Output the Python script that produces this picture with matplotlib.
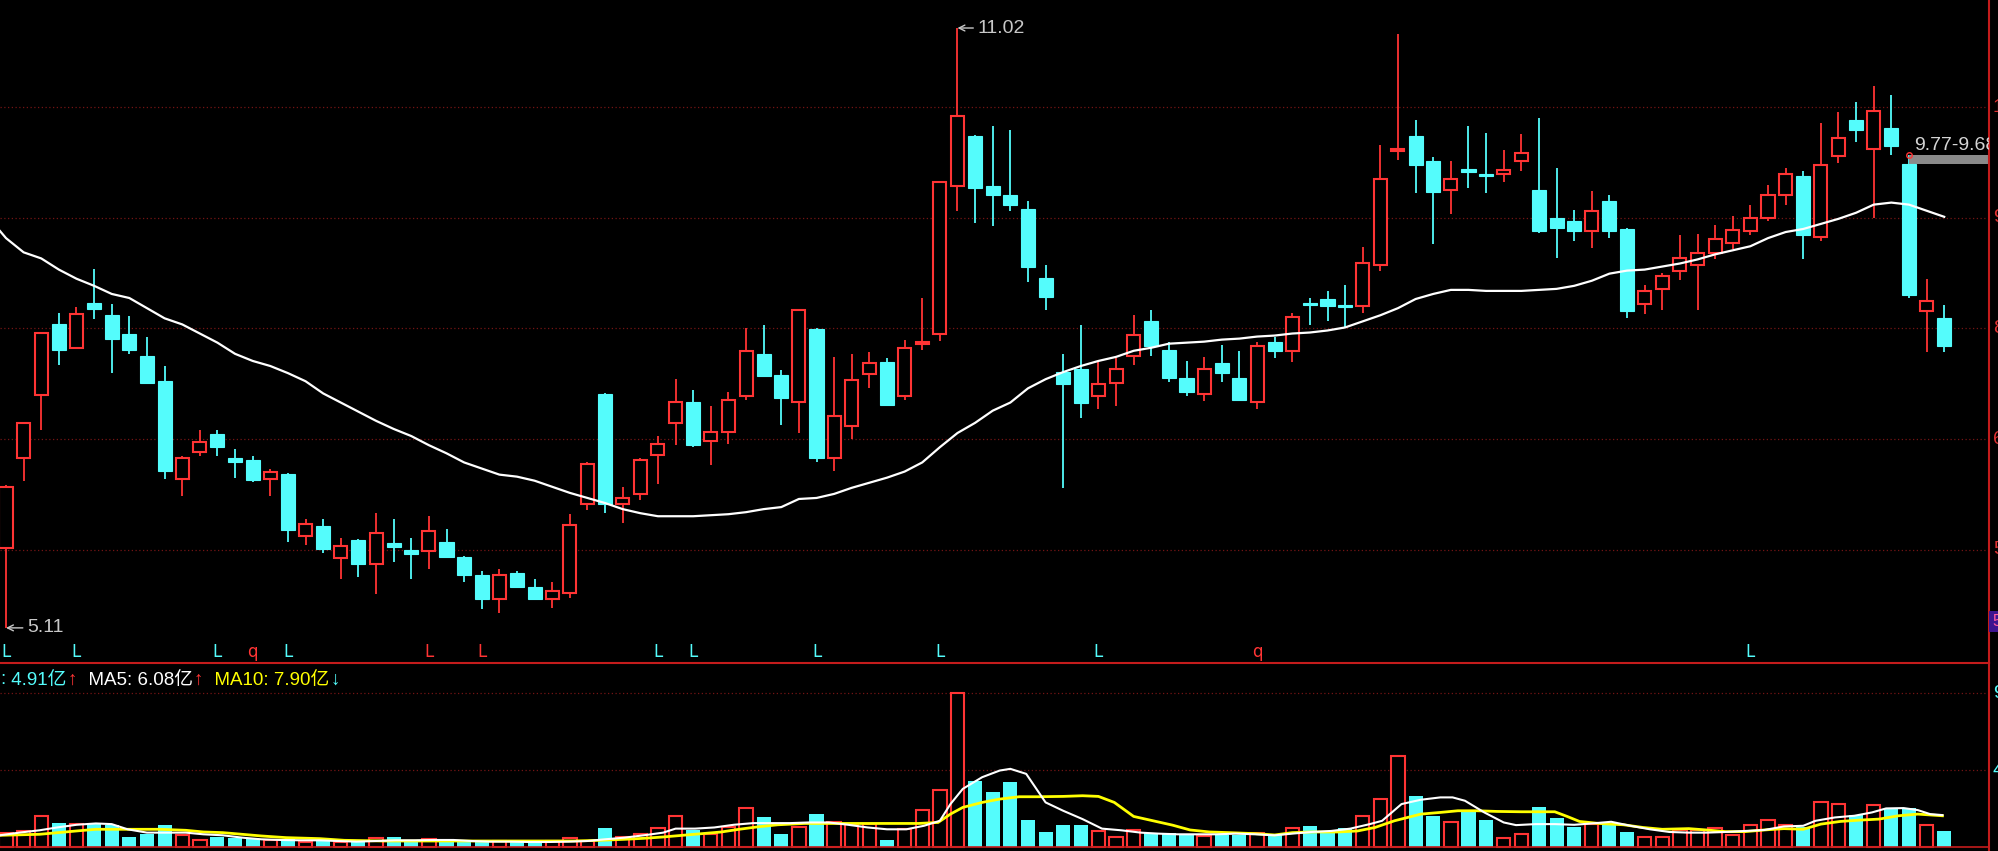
import matplotlib.pyplot as plt
import numpy as np
from matplotlib.transforms import blended_transform_factory, IdentityTransform

plt.rcParams['font.family'] = ['Liberation Sans', 'Noto Sans CJK SC', 'DejaVu Sans']

# ---- Kursdaten, ein Eintrag je Tag ----
opens = [5.90, 6.78, 7.40, 8.10, 7.87, 8.31, 8.19, 8.01, 7.79, 7.54,
         6.58, 6.84, 7.02, 6.78, 6.76, 6.58, 6.63, 6.02, 6.11, 5.80,
         5.98, 5.74, 5.95, 5.88, 5.87, 5.96, 5.81, 5.63, 5.39, 5.65,
         5.51, 5.39, 5.45, 6.33, 7.41, 6.33, 6.43, 6.81, 7.13, 7.34,
         6.95, 7.04, 7.39, 7.81, 7.60, 7.34, 8.05, 6.78, 7.10, 7.61,
         7.73, 7.39, 7.91, 8.01, 9.46, 9.96, 9.46, 9.37, 9.24, 8.56,
         7.63, 7.66, 7.39, 7.52, 7.79, 8.13, 7.85, 7.57, 7.41, 7.72,
         7.57, 7.34, 7.93, 7.84, 8.31, 8.35, 8.29, 8.28, 8.69, 9.81,
         9.96, 9.71, 9.42, 9.63, 9.58, 9.58, 9.71, 9.42, 9.15, 9.12,
         9.02, 9.32, 9.04, 8.30, 8.45, 8.63, 8.69, 8.80, 8.90, 9.02,
         9.15, 9.37, 9.56, 8.96, 9.76, 10.11, 9.83, 10.03, 9.68, 8.23,
         8.16]
highs = [6.52, 7.13, 8.03, 8.21, 8.27, 8.65, 8.30, 8.18, 7.98, 7.69,
         6.80, 7.06, 7.06, 6.87, 6.80, 6.68, 6.64, 6.18, 6.18, 6.00,
         5.99, 6.24, 6.18, 6.00, 6.21, 6.08, 5.82, 5.67, 5.69, 5.67,
         5.59, 5.56, 6.23, 6.74, 7.42, 6.50, 6.78, 7.00, 7.56, 7.45,
         7.30, 7.43, 8.06, 8.09, 7.65, 8.25, 8.06, 7.78, 7.81, 7.83,
         7.77, 7.95, 8.36, 9.51, 11.02, 9.97, 10.05, 10.02, 9.32, 8.69,
         7.81, 8.09, 7.74, 7.77, 8.19, 8.24, 7.93, 7.74, 7.78, 7.90,
         7.84, 7.93, 7.98, 8.21, 8.36, 8.43, 8.49, 8.86, 9.87, 10.96,
         10.11, 9.75, 9.71, 10.05, 9.99, 9.82, 9.98, 10.13, 9.64, 9.23,
         9.41, 9.37, 9.05, 8.49, 8.61, 8.98, 8.99, 9.08, 9.17, 9.28,
         9.47, 9.64, 9.61, 10.08, 10.19, 10.29, 10.45, 10.36, 9.77, 8.55,
         8.29]
lows = [5.11, 6.56, 7.06, 7.70, 7.86, 8.15, 7.62, 7.81, 7.51, 6.58,
        6.41, 6.80, 6.80, 6.59, 6.55, 6.41, 5.96, 5.93, 5.85, 5.59,
        5.61, 5.44, 5.76, 5.59, 5.69, 5.80, 5.56, 5.30, 5.26, 5.50,
        5.38, 5.31, 5.40, 6.27, 6.24, 6.14, 6.37, 6.53, 6.91, 6.89,
        6.71, 6.92, 7.36, 7.58, 7.11, 7.03, 6.74, 6.66, 6.97, 7.47,
        7.30, 7.36, 7.85, 7.94, 9.22, 9.10, 9.07, 9.22, 8.52, 8.24,
        6.49, 7.18, 7.27, 7.30, 7.70, 7.79, 7.53, 7.39, 7.35, 7.53,
        7.35, 7.27, 7.77, 7.73, 8.09, 8.13, 8.07, 8.21, 8.63, 9.72,
        9.39, 8.89, 9.19, 9.44, 9.39, 9.50, 9.61, 9.00, 8.75, 8.92,
        8.85, 8.95, 8.16, 8.20, 8.24, 8.54, 8.24, 8.74, 8.84, 8.98,
        9.12, 9.28, 8.74, 8.92, 9.69, 9.90, 9.15, 9.77, 8.36, 7.83,
        7.83]
closes = [6.50, 7.13, 8.02, 7.85, 8.20, 8.25, 7.96, 7.85, 7.52, 6.66,
          6.78, 6.94, 6.89, 6.74, 6.57, 6.65, 6.07, 6.13, 5.89, 5.92,
          5.74, 6.04, 5.91, 5.84, 6.06, 5.81, 5.63, 5.39, 5.63, 5.51,
          5.39, 5.47, 6.12, 6.72, 6.33, 6.39, 6.76, 6.92, 7.34, 6.91,
          7.04, 7.36, 7.84, 7.59, 7.37, 8.24, 6.78, 7.20, 7.55, 7.72,
          7.31, 7.87, 7.93, 9.50, 10.15, 9.44, 9.37, 9.28, 8.67, 8.37,
          7.51, 7.33, 7.51, 7.66, 8.00, 7.89, 7.57, 7.43, 7.66, 7.62,
          7.36, 7.89, 7.84, 8.17, 8.29, 8.28, 8.27, 8.70, 9.53, 9.83,
          9.67, 9.40, 9.53, 9.60, 9.56, 9.62, 9.79, 9.02, 9.05, 9.02,
          9.22, 9.02, 8.23, 8.43, 8.58, 8.75, 8.80, 8.94, 9.03, 9.15,
          9.37, 9.58, 8.98, 9.67, 9.94, 10.02, 10.20, 9.86, 8.39, 8.33,
          7.89]

# weisse Durchschnittslinie im Kursfenster (erster Punkt liegt am linken Rand)
ma_x = [-0.34] + list(range(111))
ma_price = [9.02,
            8.95, 8.81, 8.75, 8.64, 8.55, 8.48, 8.40, 8.36, 8.26, 8.16,
            8.10, 8.01, 7.92, 7.81, 7.74, 7.69, 7.62, 7.54, 7.42, 7.33,
            7.24, 7.15, 7.07, 7.00, 6.91, 6.83, 6.74, 6.68, 6.62, 6.60,
            6.56, 6.50, 6.44, 6.39, 6.34, 6.28, 6.24, 6.21, 6.21, 6.21,
            6.22, 6.23, 6.25, 6.28, 6.30, 6.38, 6.39, 6.43, 6.49, 6.54,
            6.59, 6.65, 6.74, 6.89, 7.03, 7.13, 7.25, 7.33, 7.47, 7.56,
            7.63, 7.69, 7.74, 7.78, 7.84, 7.87, 7.91, 7.92, 7.93, 7.95,
            7.96, 7.98, 7.99, 8.01, 8.02, 8.04, 8.07, 8.13, 8.19, 8.26,
            8.35, 8.40, 8.44, 8.44, 8.43, 8.43, 8.43, 8.44, 8.45, 8.48,
            8.53, 8.60, 8.63, 8.64, 8.67, 8.70, 8.74, 8.79, 8.83, 8.87,
            8.95, 9.01, 9.04, 9.09, 9.14, 9.20, 9.28, 9.30, 9.28, 9.22,
            9.16]

# Volumen in 亿
volumes = [0.86, 0.96, 1.87, 1.45, 1.37, 1.45, 1.31, 0.62, 0.80, 1.33,
           0.70, 0.40, 0.62, 0.56, 0.46, 0.40, 0.46, 0.32, 0.36, 0.32,
           0.36, 0.52, 0.60, 0.36, 0.46, 0.46, 0.36, 0.40, 0.36, 0.32,
           0.32, 0.36, 0.52, 0.36, 1.13, 0.60, 0.76, 1.13, 1.87, 1.01,
           0.80, 1.17, 2.33, 1.81, 0.80, 1.21, 1.97, 1.47, 1.37, 1.37,
           0.40, 1.07, 2.21, 3.42, 9.21, 3.98, 3.28, 3.88, 1.63, 0.90,
           1.33, 1.33, 0.96, 0.60, 1.03, 0.86, 0.86, 0.70, 0.66, 0.70,
           0.70, 0.86, 0.70, 1.11, 1.27, 0.96, 1.13, 1.85, 2.87, 5.45,
           3.08, 1.83, 1.47, 2.07, 1.63, 0.56, 0.76, 2.37, 1.71, 1.17,
           1.37, 1.31, 0.92, 0.60, 0.60, 1.03, 1.03, 1.11, 0.70, 1.31,
           1.61, 1.31, 1.17, 2.67, 2.57, 1.91, 2.51, 2.31, 2.31, 1.31,
           0.96]

vol_ma5_x = [-0.34, 0.75, 1.9, 2.9, 4.0, 5.1, 6.0, 6.9, 8.0, 9.1, 10.2, 11.2, 12.3, 13.4,
             14.5, 15.6, 16.7, 17.8, 18.8, 19.9, 21.0, 22.1, 23.2, 24.3, 25.4, 26.4, 27.5,
             28.6, 29.7, 30.8, 31.9, 33.0, 34.0, 35.1, 36.2, 37.3, 38.0, 39.1, 40.2, 41.3,
             42.4, 43.5, 44.5, 45.6, 46.7, 47.8, 48.9, 50.0, 51.1, 52.1, 53.0, 53.6, 54.3,
             55.4, 56.4, 57.0, 57.9, 59.0, 60.0, 61.1, 62.2, 63.3, 64.4, 65.4, 66.5, 67.6,
             68.7, 69.8, 70.9, 72.0, 73.0, 74.1, 75.2, 76.3, 77.4, 78.1, 79.2, 80.3, 81.4,
             82.1, 82.8, 83.9, 85.0, 85.7, 86.8, 87.9, 89.0, 90.0, 91.1, 92.2, 93.3, 94.4,
             95.5, 96.5, 97.6, 98.7, 99.8, 100.9, 102.0, 102.7, 103.8, 104.9, 105.9, 106.7,
             107.7, 108.5, 109.2, 109.9]
vol_ma5 = [0.70, 0.86, 1.00, 1.17, 1.33, 1.41, 1.37, 1.06, 0.86, 0.86, 0.86, 0.76, 0.70, 0.56,
           0.46, 0.42, 0.40, 0.40, 0.36, 0.32, 0.36, 0.40, 0.40, 0.42, 0.42, 0.36, 0.32,
           0.32, 0.30, 0.30, 0.32, 0.36, 0.46, 0.56, 0.70, 0.86, 1.10, 1.10, 1.17, 1.33,
           1.43, 1.43, 1.43, 1.47, 1.47, 1.33, 1.17, 1.06, 1.06, 1.27, 1.57, 2.57, 3.48,
           4.18, 4.58, 4.68, 4.38, 2.67, 2.17, 1.67, 1.10, 1.00, 0.86, 0.80, 0.76, 0.76,
           0.76, 0.80, 0.76, 0.70, 0.80, 0.90, 0.96, 1.10, 1.37, 1.57, 2.57, 2.83, 2.97,
           2.97, 2.77, 2.07, 1.47, 1.31, 1.37, 1.37, 1.33, 1.41, 1.51, 1.27, 1.06, 0.90,
           0.86, 0.86, 0.90, 0.96, 1.02, 1.23, 1.27, 1.57, 1.77, 1.87, 2.07, 2.31,
           2.33, 2.21, 1.97, 1.91]
vol_ma10_x = [-0.34, 1.9, 4.0, 5.1, 6.9, 8.7, 10.2, 11.2, 12.3, 13.4, 14.5, 15.9, 17.8, 19.2,
              21.4, 23.5, 25.7, 27.9, 30.1, 32.2, 33.7, 35.1, 36.2, 37.3, 38.4, 39.5, 40.6,
              41.6, 42.7, 43.8, 45.3, 46.7, 48.5, 50.3, 51.8, 52.9, 53.6, 54.3, 55.4, 56.4,
              57.5, 58.6, 60.0, 61.1, 62.0, 62.9, 64.0, 65.1, 66.2, 67.2, 68.3, 69.4, 70.9,
              72.0, 73.0, 74.1, 75.6, 76.7, 77.7, 78.8, 80.3, 81.4, 82.4, 83.5, 84.6, 86.0,
              87.9, 88.6, 89.3, 90.4, 91.8, 92.9, 94.0, 95.5, 96.5, 97.6, 98.7, 99.8, 100.9,
              102.0, 103.0, 104.1, 105.2, 106.3, 107.4, 108.5, 109.9]
vol_ma10 = [0.70, 0.76, 0.96, 1.06, 1.06, 1.06, 1.00, 0.90, 0.86, 0.76, 0.66, 0.56, 0.50, 0.40,
            0.36, 0.36, 0.36, 0.36, 0.36, 0.36, 0.40, 0.46, 0.52, 0.60, 0.70, 0.80, 0.90,
            1.06, 1.21, 1.33, 1.41, 1.41, 1.41, 1.41, 1.41, 1.47, 1.97, 2.37, 2.67, 2.87,
            3.01, 3.01, 3.03, 3.07, 3.03, 2.67, 1.83, 1.57, 1.31, 1.02, 0.90, 0.86, 0.80,
            0.72, 0.86, 0.90, 0.90, 0.96, 1.17, 1.57, 1.97, 2.07, 2.17, 2.17, 2.13, 2.11,
            2.11, 1.83, 1.53, 1.41, 1.33, 1.17, 1.06, 1.10, 1.02, 0.92, 0.92, 1.02, 1.10,
            1.06, 1.37, 1.53, 1.61, 1.67, 1.87, 1.97, 1.87]

# Achsenbeschriftung rechts
price_grid = [10.24, 9.15, 8.06, 6.97, 5.88]
vol_grid = [9.20, 4.60]

# Signal-Buchstaben unter den Kerzen
sig_index = [0, 4, 12, 14, 16, 24, 27, 37, 39, 46, 53, 62, 71, 99]
sig_text = ['L', 'L', 'L', 'q', 'L', 'L', 'L', 'L', 'L', 'L', 'L', 'L', 'q', 'L']
sig_up = [False, False, False, True, False, True, True, False, False, False, False, False, True, False]

legend_vol, legend_ma5, legend_ma10 = 4.91, 6.08, 7.90

# Farben
RED = '#ff3434'
CYAN = '#54fcfc'
GRID = '#741414'
AXIS = '#c41c1c'
GREY = '#c8c8c8'

o = np.array(opens)
h = np.array(highs)
l = np.array(lows)
c = np.array(closes)
v = np.array(volumes)
n = len(o)
idx = np.arange(n)
up = c >= o
col = np.where(up, RED, CYAN)

# Layout in Pixeln: 1999 x 851, Trennlinie bei 663, rechte Achse bei 1989
W, H = 1999, 851
split = 663
plot_w = 1989
step, x0 = 17.62, 6.0

fig = plt.figure(figsize=(W / 100, H / 100), dpi=100, facecolor='black')
ax = fig.add_axes([0, (H - split) / H, plot_w / W, split / H])
axv = fig.add_axes([0, 0, plot_w / W, (H - split) / H])

xlim = (-x0 / step, (plot_w - x0) / step)
for a in (ax, axv):
    a.set_facecolor('black')
    a.set_xlim(*xlim)
    a.set_xticks([])
    a.set_yticks([])
    for s in a.spines.values():
        s.set_visible(False)
    a.spines['right'].set_visible(True)
    a.spines['right'].set_color(AXIS)
    a.spines['right'].set_linewidth(1.5)
axv.spines['top'].set_visible(True)
axv.spines['top'].set_color(AXIS)
axv.spines['top'].set_linewidth(1.5)

ax.set_ylim(4.764, 11.296)
axv.set_ylim(-0.24, 11.02)

# Gitter
for g in price_grid:
    ax.axhline(g, color=GRID, lw=0.9, ls=(0, (1, 2)), zorder=0)
for g in vol_grid:
    axv.axhline(g, color=GRID, lw=0.9, ls=(0, (1, 2)), zorder=0)

# Kerzen
ax.vlines(idx, l, h, colors=col, lw=1.3, zorder=2)
ax.bar(idx[~up], (o - c)[~up], bottom=c[~up], width=0.8, color=CYAN,
       edgecolor=CYAN, lw=0.8, zorder=3)
ax.bar(idx[up], (c - o)[up], bottom=o[up], width=0.74, facecolor='black',
       edgecolor=RED, lw=1.5, zorder=3)
ax.plot(ma_x, ma_price, color='white', lw=1.6, zorder=4)

# Hoch / Tief Markierungen
imax = int(np.argmax(h))
imin = int(np.argmin(l))
arrow = dict(arrowstyle='->,head_length=0.3,head_width=0.15', color=GREY, lw=1,
             shrinkA=1, shrinkB=0)
ax.annotate(f'{h[imax]:.2f}', xy=(imax, h[imax]), xytext=(20, 0), textcoords='offset pixels',
            color=GREY, fontsize=14, va='center', ha='left', arrowprops=arrow, zorder=5)
ax.annotate(f'{l[imin]:.2f}', xy=(imin, l[imin]), xytext=(21, 0), textcoords='offset pixels',
            color=GREY, fontsize=14, va='center', ha='left', arrowprops=arrow, zorder=5)

# graues Band am letzten Hoch, Text an der Achse abgeschnitten
band_i = 108
ax.fill_between([band_i, xlim[1]], o[band_i], h[band_i], color='#8a8a8a', lw=0, zorder=2)
ax.plot(band_i, h[band_i], 'o', mfc='none', mec=RED, ms=4, mew=1, zorder=5)
band_txt = ax.text(band_i + 0.3, 9.86, f'{h[band_i]:.2f}-{o[band_i]:.2f}', color='#d4d4d4',
                   fontsize=14, va='center', ha='left', zorder=5)
band_txt.set_clip_path(ax.patch)
band_txt.set_clip_on(True)

# Signale
tr_sig = blended_transform_factory(ax.transData, ax.transAxes)
for i, t, u in zip(sig_index, sig_text, sig_up):
    ax.text(i, 0.017, t, transform=tr_sig, color=RED if u else CYAN, fontsize=12,
            ha='center', va='center', family='DejaVu Sans')

# rechte Achsenbeschriftung (vom Bildrand abgeschnitten wie im Original)
tr_r = blended_transform_factory(ax.transAxes, ax.transData)
for g in price_grid:
    ax.text(1.002, g, f'{g:.2f}', transform=tr_r, color='#e03030', fontsize=14,
            va='center', ha='left', clip_on=False)
ax.text(1.0015, 5.17, '5.17', transform=tr_r, color='#ff5aa0', fontsize=12, va='center',
        ha='left', clip_on=False,
        bbox=dict(facecolor='#3c1490', edgecolor='none', pad=2))
tr_rv = blended_transform_factory(axv.transAxes, axv.transData)
for g in vol_grid:
    axv.text(1.002, g, f'{g:.2f}', transform=tr_rv, color=CYAN, fontsize=14,
             va='center', ha='left', clip_on=False)

# Volumen
axv.bar(idx[~up], v[~up], width=0.8, color=CYAN, lw=0, zorder=2)
axv.bar(idx[up], v[up], width=0.76, facecolor='black', edgecolor=RED, lw=1.5, zorder=2)
axv.plot(vol_ma10_x, vol_ma10, color='#ffff00', lw=2.0, zorder=3)
axv.plot(vol_ma5_x, vol_ma5, color='white', lw=1.5, zorder=4)
axv.axhline(0, color=AXIS, lw=1.2, zorder=5)

# Legende oben im Volumenfenster
parts = [(':', CYAN), (f' {legend_vol:.2f}亿', CYAN), ('↑', RED),
         (f'  MA5: {legend_ma5:.2f}亿', 'white'), ('↑', RED),
         (f'  MA10: {legend_ma10:.2f}亿', '#ffff00'), ('↓', CYAN)]
renderer = fig.canvas.get_renderer()
px = 0
for s, colr in parts:
    t = fig.text(px, H - 680, s, transform=IdentityTransform(), color=colr,
                 fontsize=13.5, va='center', ha='left')
    px += t.get_window_extent(renderer).width + 1

fig.savefig('out.png', dpi=100, facecolor='black')
